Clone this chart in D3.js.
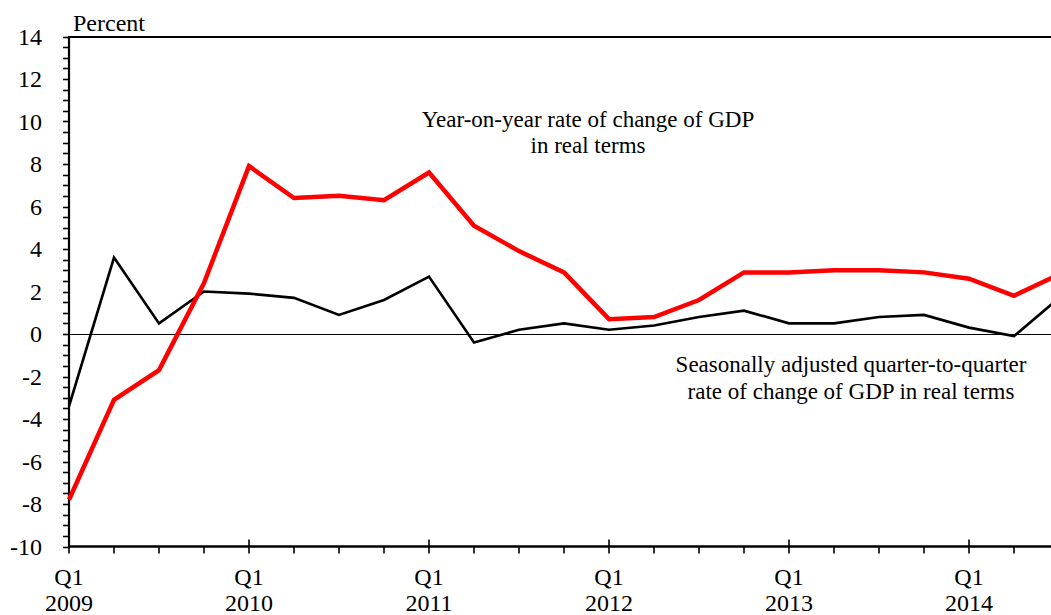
<!DOCTYPE html>
<html><head><meta charset="utf-8">
<script src="https://cdn.jsdelivr.net/npm/d3@7"></script>
<style>body{margin:0;background:#fff}svg{display:block}text{font-family:"Liberation Serif","Times New Roman",serif;fill:#000}</style>
</head><body>
<svg id="c" width="1051" height="615"></svg>
<script>
const quarters = ["2009Q1","2009Q2","2009Q3","2009Q4","2010Q1","2010Q2","2010Q3","2010Q4","2011Q1","2011Q2","2011Q3","2011Q4","2012Q1","2012Q2","2012Q3","2012Q4","2013Q1","2013Q2","2013Q3","2013Q4","2014Q1","2014Q2","2014Q3"];
const yoy = [-7.8,-3.1,-1.7,2.4,7.9,6.4,6.5,6.3,7.6,5.1,3.9,2.9,0.7,0.8,1.6,2.9,2.9,3.0,3.0,2.9,2.6,1.8,2.8];
const qoq = [-3.4,3.6,0.5,2.0,1.9,1.7,0.9,1.6,2.7,-0.4,0.2,0.5,0.2,0.4,0.8,1.1,0.5,0.5,0.8,0.9,0.3,-0.1,1.7];
const yearLabels = ["2009","2010","2011","2012","2013","2014"];
const yTicks = [14,12,10,8,6,4,2,0,-2,-4,-6,-8,-10];

const svg = d3.select("#c");
const x0 = 69, qStep = 45;
const x = d3.scaleLinear().domain([0, quarters.length - 1]).range([x0, x0 + qStep*(quarters.length-1)]);
const y = d3.scaleLinear().domain([-10, 14]).range([546.5, 36.5]);
const right = 1051;

// top border
svg.append("line").attr("x1",x0).attr("x2",right).attr("y1",y(14)+0.5).attr("y2",y(14)+0.5).attr("stroke","#000").attr("stroke-width",2);
// zero line
svg.append("line").attr("x1",x0).attr("x2",right).attr("y1",y(0)+0.5).attr("y2",y(0)+0.5).attr("stroke","#000").attr("stroke-width",1);

// y ticks (every 0.5)
const minor = d3.range(-10, 14.01, 0.5);
svg.append("g").selectAll("line").data(minor).join("line")
  .attr("x1",x0-6).attr("x2",x0).attr("y1",d=>Math.round(y(d))+0.5).attr("y2",d=>Math.round(y(d))+0.5)
  .attr("stroke","#000").attr("stroke-width",1.6);
svg.append("g").selectAll("text").data(yTicks).join("text")
  .attr("x",42).attr("y",d=>y(d)).attr("dy","0.35em").attr("text-anchor","end")
  .attr("font-size",24).text(d=>d);

// y axis line
svg.append("line").attr("x1",x0).attr("x2",x0).attr("y1",y(14)-0.5).attr("y2",y(-10)+1.5).attr("stroke","#000").attr("stroke-width",2.2);

// x axis
svg.append("line").attr("x1",x0).attr("x2",right).attr("y1",y(-10)).attr("y2",y(-10)).attr("stroke","#000").attr("stroke-width",2.5);
const qIdx = d3.range(quarters.length);
svg.append("g").selectAll("line").data(qIdx).join("line")
  .attr("x1",d=>x(d)).attr("x2",d=>x(d))
  .attr("y1",d=> d%4===0 ? y(-10)-7 : y(-10))
  .attr("y2",y(-10)+7).attr("stroke","#000").attr("stroke-width",1.6);
const yearIdx = qIdx.filter(d=>d%4===0);
svg.append("g").selectAll("text").data(yearIdx).join("text")
  .attr("x",d=>x(d)).attr("y",585).attr("text-anchor","middle").attr("font-size",24).text("Q1");
svg.append("g").selectAll("text").data(yearIdx).join("text")
  .attr("x",d=>x(d)).attr("y",611).attr("text-anchor","middle").attr("font-size",24).text((d,i)=>yearLabels[i]);

svg.append("text").attr("x",73).attr("y",31).attr("font-size",24).text("Percent");

// lines
const line = d3.line().x((d,i)=>x(i)).y(d=>y(d));
svg.append("path").datum(qoq).attr("d",line).attr("fill","none").attr("stroke","#000").attr("stroke-width",2.6).attr("stroke-linejoin","miter");
svg.append("path").datum(yoy).attr("d",line).attr("fill","none").attr("stroke","#ff0000").attr("stroke-width",4.5).attr("stroke-linejoin","miter");

// annotations
const a1 = svg.append("text").attr("text-anchor","middle").attr("font-size",23);
a1.append("tspan").attr("x",588).attr("y",127).text("Year-on-year rate of change of GDP");
a1.append("tspan").attr("x",588).attr("y",153).text("in real terms");
const a2 = svg.append("text").attr("text-anchor","middle").attr("font-size",23);
a2.append("tspan").attr("x",851).attr("y",372).text("Seasonally adjusted quarter-to-quarter");
a2.append("tspan").attr("x",851).attr("y",399).text("rate of change of GDP in real terms");
</script>
</body></html>
